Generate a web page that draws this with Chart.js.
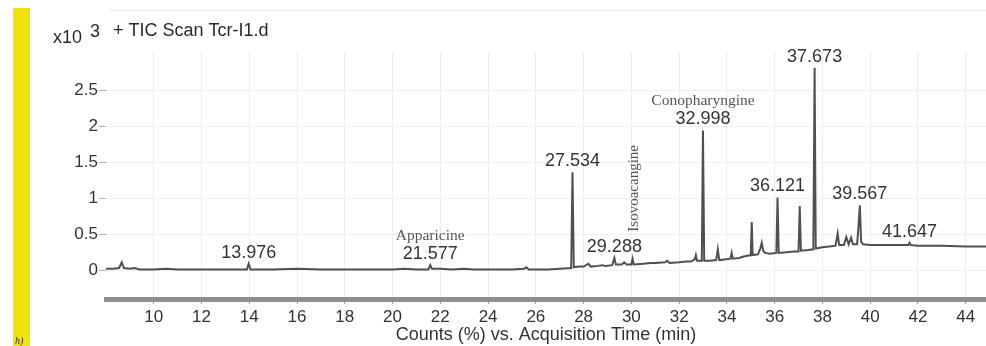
<!DOCTYPE html>
<html>
<head>
<meta charset="utf-8">
<script src="https://cdn.jsdelivr.net/npm/chart.js@4/dist/chart.umd.min.js"></script>
<style>
  html, body { margin: 0; padding: 0; background: #ffffff; }
  #wrap { position: relative; width: 986px; height: 346px; }
</style>
</head>
<body>
<div id="wrap"><canvas id="tic" width="986" height="346"></canvas></div>
<script>
// Total ion chromatogram, Tcr-I1.d: acquisition time (min) and counts (x10^3)
const retentionTimes = [
  8.00, 8.30, 8.55, 8.66, 8.75, 9.00, 9.20, 9.40, 10.00, 10.50, 11.00, 12.00, 13.00,
  13.90, 13.976, 14.05, 15.00, 16.00, 17.00, 18.00, 19.00, 20.00, 20.50, 21.00, 21.50,
  21.577, 21.65, 22.00, 22.50, 23.00, 23.40, 24.00, 25.00, 25.50, 25.60, 25.70, 26.00,
  26.50, 27.00, 27.48, 27.534, 27.59, 27.80, 28.00, 28.20, 28.30, 28.60, 28.80, 28.90,
  29.20, 29.288, 29.35, 29.60, 29.70, 29.80, 30.00, 30.05, 30.10, 30.50, 30.80, 31.00,
  31.40, 31.50, 31.60, 32.00, 32.30, 32.50, 32.65, 32.70, 32.75, 32.95, 32.998, 33.05,
  33.30, 33.55, 33.62, 33.68, 33.90, 34.15, 34.20, 34.25, 34.50, 34.70, 35.00, 35.04,
  35.08, 35.30, 35.40, 35.46, 35.52, 35.60, 35.80, 36.07, 36.121, 36.17, 36.50, 36.80,
  37.00, 37.05, 37.10, 37.40, 37.62, 37.673, 37.72, 38.00, 38.30, 38.55, 38.64, 38.70,
  38.90, 39.00, 39.10, 39.20, 39.28, 39.45, 39.50, 39.567, 39.62, 39.70, 40.00, 40.50,
  41.00, 41.60, 41.647, 41.70, 42.00, 43.00, 44.00, 44.85
];
const ticCounts = [
  0.02, 0.02, 0.03, 0.11, 0.03, 0.02, 0.03, 0.01, 0.01, 0.02, 0.01, 0.01, 0.01,
  0.01, 0.09, 0.01, 0.01, 0.02, 0.01, 0.01, 0.01, 0.01, 0.02, 0.01, 0.01,
  0.07, 0.02, 0.02, 0.01, 0.02, 0.01, 0.01, 0.01, 0.02, 0.04, 0.01, 0.01,
  0.01, 0.02, 0.03, 1.36, 0.04, 0.05, 0.05, 0.09, 0.05, 0.06, 0.07, 0.06,
  0.07, 0.17, 0.08, 0.08, 0.11, 0.08, 0.08, 0.16, 0.08, 0.09, 0.10, 0.10,
  0.11, 0.13, 0.10, 0.11, 0.12, 0.12, 0.15, 0.21, 0.13, 0.13, 1.94, 0.13,
  0.13, 0.14, 0.29, 0.14, 0.15, 0.16, 0.24, 0.16, 0.17, 0.19, 0.21, 0.67,
  0.21, 0.22, 0.30, 0.38, 0.27, 0.24, 0.23, 0.24, 1.01, 0.24, 0.25, 0.26,
  0.26, 0.89, 0.27, 0.28, 0.29, 2.81, 0.30, 0.32, 0.33, 0.34, 0.51, 0.35,
  0.35, 0.46, 0.36, 0.45, 0.36, 0.36, 0.55, 0.90, 0.40, 0.36, 0.35, 0.35,
  0.35, 0.35, 0.38, 0.35, 0.34, 0.34, 0.33, 0.33
];

// Axis ticks
const xTickValues = [10, 12, 14, 16, 18, 20, 22, 24, 26, 28, 30, 32, 34, 36, 38, 40, 42, 44];
const yTickValues = [0, 0.5, 1, 1.5, 2, 2.5];
const yTickLabels = ['0', '0.5', '1', '1.5', '2', '2.5'];

// Annotated peaks (retention time labels) and identified compounds
const peakTimes = [13.976, 21.577, 27.534, 29.288, 32.998, 36.121, 37.673, 39.567, 41.647];
const compoundTimes = [21.577, 32.998];
const compoundNames = ['Apparicine', 'Conopharyngine'];
const verticalCompoundTime = 30.05;
const verticalCompoundName = 'Isovoacangine';

const points = retentionTimes.map((t, i) => ({ x: t, y: ticCounts[i] }));
const countAt = t => ticCounts[retentionTimes.indexOf(t)];

const SANS = '"Liberation Sans", Arial, Helvetica, sans-serif';
const SERIF = '"Liberation Serif", "Times New Roman", serif';

// Frame: side marker bar, header text, top rule
const framePlugin = {
  id: 'frame',
  beforeDraw(chart) {
    const ctx = chart.ctx;
    ctx.save();
    ctx.fillStyle = '#f1e40c';
    ctx.fillRect(13, 8, 17, 338);
    ctx.strokeStyle = '#e6e6e6';
    ctx.lineWidth = 1;
    ctx.beginPath();
    ctx.moveTo(110, 10.5);
    ctx.lineTo(986, 10.5);
    ctx.stroke();
    ctx.fillStyle = '#2a2a2a';
    ctx.textBaseline = 'alphabetic';
    ctx.font = '18px ' + SANS;
    ctx.fillText('x10', 53, 43);
    ctx.fillText('3', 90, 37);
    ctx.fillText('+ TIC Scan Tcr-I1.d', 113, 36);
    ctx.font = 'italic 10px ' + SERIF;
    ctx.fillStyle = '#333';
    ctx.fillText('h)', 15, 344);
    ctx.restore();
  }
};

// Retention-time and compound annotations placed over their peaks
const peakLabelPlugin = {
  id: 'peakLabels',
  afterDatasetsDraw(chart) {
    const ctx = chart.ctx;
    const xs = chart.scales.x, ys = chart.scales.y;
    ctx.save();
    ctx.textAlign = 'center';
    ctx.textBaseline = 'alphabetic';
    ctx.fillStyle = '#333333';
    ctx.font = '18px ' + SANS;
    peakTimes.forEach(t => {
      const px = xs.getPixelForValue(t);
      const py = ys.getPixelForValue(countAt(t));
      ctx.fillText(t.toFixed(3), px, py - 6);
    });
    ctx.font = '15.5px ' + SERIF;
    ctx.fillStyle = '#555555';
    compoundTimes.forEach((t, i) => {
      const px = xs.getPixelForValue(t);
      const py = ys.getPixelForValue(countAt(t));
      ctx.fillText(compoundNames[i], px, py - 25);
    });
    // rotated compound name
    const vx = xs.getPixelForValue(verticalCompoundTime);
    const vy = ys.getPixelForValue(countAt(verticalCompoundTime));
    ctx.translate(vx + 5, vy - 27);
    ctx.rotate(-Math.PI / 2);
    ctx.textAlign = 'left';
    ctx.font = '15px ' + SERIF;
    ctx.fillText(verticalCompoundName, 0, 0);
    ctx.restore();
  }
};

new Chart(document.getElementById('tic'), {
  type: 'line',
  data: {
    datasets: [{
      data: points,
      borderColor: '#505050',
      borderWidth: 2,
      pointRadius: 0,
      tension: 0,
      fill: false
    }]
  },
  options: {
    responsive: false,
    animation: false,
    layout: { padding: { top: 52, left: 0, right: 0, bottom: 0 } },
    plugins: { legend: { display: false }, tooltip: { enabled: false }, title: { display: false } },
    scales: {
      x: {
        type: 'linear',
        min: 8,
        max: 44.85,
        afterBuildTicks: s => { s.ticks = xTickValues.map(v => ({ value: v })); },
        afterFit: s => { s.height = 47; },
        ticks: {
          autoSkip: false, maxRotation: 0, padding: 3,
          color: '#333333',
          font: { family: SANS, size: 17 },
          callback: v => String(v)
        },
        grid: { color: '#ededed', tickColor: '#9a9a9a', tickLength: 5, lineWidth: 1 },
        border: { display: true, color: '#8e8e8e', width: 5 },
        title: {
          display: true,
          text: 'Counts (%) vs. Acquisition Time (min)',
          color: '#333333',
          font: { family: SANS, size: 18 },
          padding: { top: 0, bottom: 0 }
        }
      },
      y: {
        min: -0.4,
        max: 3.03,
        afterBuildTicks: s => { s.ticks = yTickValues.map(v => ({ value: v })); },
        afterFit: s => { s.width = 106; },
        ticks: {
          padding: 1,
          color: '#333333',
          font: { family: SANS, size: 17 },
          callback: (v, i) => yTickLabels[i]
        },
        grid: { color: '#f0f0f0', tickColor: '#b0b0b0', tickLength: 7, lineWidth: 1 },
        border: { display: false }
      }
    }
  },
  plugins: [framePlugin, peakLabelPlugin]
});
</script>
</body>
</html>
